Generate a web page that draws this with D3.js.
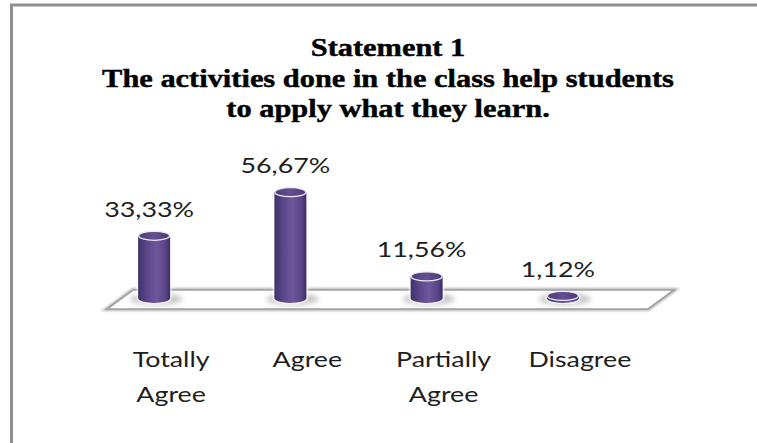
<!DOCTYPE html>
<html>
<head>
<meta charset="utf-8">
<script src="https://cdn.jsdelivr.net/npm/d3@7"></script>
<style>
  html, body { margin: 0; padding: 0; background: #fff; }
  svg { display: block; }
</style>
</head>
<body>
<svg id="chart" width="757" height="443"></svg>
<script>
// Survey results for statement 1
const titleLines = ["Statement 1", "The activities done in the class help students", "to apply what they learn."];
const categories = ["Totally Agree", "Agree", "Partially Agree", "Disagree"];
const categoryLines = [["Totally", "Agree"], ["Agree"], ["Partially", "Agree"], ["Disagree"]];
const values = [33.33, 56.67, 11.56, 1.12];

const W = 757, H = 443;
const svg = d3.select("#chart");
const defs = svg.append("defs");

// comma decimal separator
const locale = d3.formatLocale({ decimal: ",", thousands: ".", grouping: [3], currency: ["", ""] });
const fmt = v => locale.format(".2f")(v) + "%";

// scales
const x = d3.scaleBand().domain(categories).range([86, 631]);
const y = d3.scaleLinear().domain([0, 60]).range([298, 186]);

// horizontal stretch applied to the wide-set lettering
const titleStretch = 1.17;
const labelStretch = 1.22;

// frame
svg.append("path")
  .attr("d", `M11.5,${H} L11.5,5 L${W},5`)
  .attr("fill", "none").attr("stroke", "#8f8f8f").attr("stroke-width", 3);

// title
const titleBase = [56, 87, 117];
titleLines.forEach((t, i) => {
  svg.append("text")
    .attr("transform", `translate(388,${titleBase[i]}) scale(${titleStretch},1)`)
    .attr("text-anchor", "middle")
    .attr("font-family", "'Liberation Serif', serif")
    .attr("font-weight", "bold")
    .attr("font-size", 26)
    .attr("fill", "#000")
    .attr("stroke", "#000")
    .attr("stroke-width", 0.45)
    .text(t);
});

// filters & gradients
const blur = defs.append("filter").attr("id", "soft").attr("x", "-50%").attr("y", "-50%").attr("width", "200%").attr("height", "200%");
blur.append("feGaussianBlur").attr("stdDeviation", 2.5);
const blurS = defs.append("filter").attr("id", "softLine").attr("x", "-5%").attr("y", "-50%").attr("width", "110%").attr("height", "200%");
blurS.append("feGaussianBlur").attr("stdDeviation", 1.2);
const glow = defs.append("filter").attr("id", "rim").attr("x", "-30%").attr("y", "-10%").attr("width", "160%").attr("height", "120%");
glow.append("feGaussianBlur").attr("stdDeviation", 0.8);

const bodyGrad = defs.append("linearGradient").attr("id", "cylBody").attr("x1", 0).attr("x2", 1).attr("y1", 0).attr("y2", 0);
[["0%", "#41306c"], ["30%", "#5c488b"], ["58%", "#6c589c"], ["85%", "#584486"], ["100%", "#3d2c64"]]
  .forEach(([o, c]) => bodyGrad.append("stop").attr("offset", o).attr("stop-color", c));
const capGrad = defs.append("linearGradient").attr("id", "cylTop").attr("x1", 0).attr("x2", 1).attr("y1", 0).attr("y2", 0);
[["0%", "#4d3c78"], ["50%", "#624e91"], ["100%", "#4c3a76"]]
  .forEach(([o, c]) => capGrad.append("stop").attr("offset", o).attr("stop-color", c));

// floor
const floorFront = 309, floorBack = 290, fx0 = 107, fx1 = 648, depth = 26;
const floorPath = `M${fx0},${floorFront} L${fx0 + depth},${floorBack} L${fx1 + depth},${floorBack} L${fx1},${floorFront} Z`;
svg.append("path").attr("d", floorPath).attr("fill", "none")
  .attr("stroke", "#b5b5b5").attr("stroke-width", 4).attr("filter", "url(#softLine)");
svg.append("path").attr("d", floorPath).attr("fill", "#fff")
  .attr("stroke", "#a0a0a0").attr("stroke-width", 1.6);

// cylinders
const rx = 16, ry = 5;
const g = svg.append("g");
const bars = g.selectAll("g.bar").data(categories.map((c, i) => ({ c, v: values[i] }))).join("g").attr("class", "bar");
const cxOf = d => x(d.c) + x.bandwidth() / 2;
const bodyPath = d => {
  const cx = cxOf(d), yt = y(d.v), yb = y(0);
  return `M${cx - rx},${yt} L${cx - rx},${yb} A${rx},${ry} 0 0 0 ${cx + rx},${yb} L${cx + rx},${yt} Z`;
};

// shadow on the floor
bars.append("ellipse")
  .attr("cx", d => cxOf(d) + 2)
  .attr("cy", y(0) + 1)
  .attr("rx", rx + 10).attr("ry", ry + 1)
  .attr("fill", "#9a9a9a").attr("opacity", 0.55).attr("filter", "url(#soft)");

// soft light rim around the body
bars.append("path")
  .attr("d", bodyPath)
  .attr("fill", "none").attr("stroke", "#ffffff").attr("stroke-width", 2.5)
  .attr("filter", "url(#rim)");

bars.append("path")
  .attr("d", bodyPath)
  .attr("fill", "url(#cylBody)");

bars.append("ellipse")
  .attr("cx", cxOf)
  .attr("cy", d => y(d.v))
  .attr("rx", rx - 0.5).attr("ry", ry - 0.5)
  .attr("fill", "url(#cylTop)")
  .attr("stroke", "#ece8f4").attr("stroke-width", 1.3);

// value labels
bars.append("text")
  .attr("transform", d => `translate(${cxOf(d) - 5},${y(d.v) - 19}) scale(${labelStretch},1)`)
  .attr("text-anchor", "middle")
  .attr("font-family", "Lato, 'Open Sans', sans-serif")
  .attr("font-size", 22)
  .attr("fill", "#1e1e1e")
  .text(d => fmt(d.v));

// category labels
const catBase = [367, 402];
categories.forEach((c, i) => {
  categoryLines[i].forEach((line, j) => {
    svg.append("text")
      .attr("transform", `translate(${x(c) + x.bandwidth() / 2 + 17},${catBase[j]}) scale(${labelStretch},1)`)
      .attr("text-anchor", "middle")
      .attr("font-family", "Lato, 'Open Sans', sans-serif")
      .attr("font-size", 22)
      .attr("fill", "#1e1e1e")
      .text(line);
  });
});
</script>
</body>
</html>
